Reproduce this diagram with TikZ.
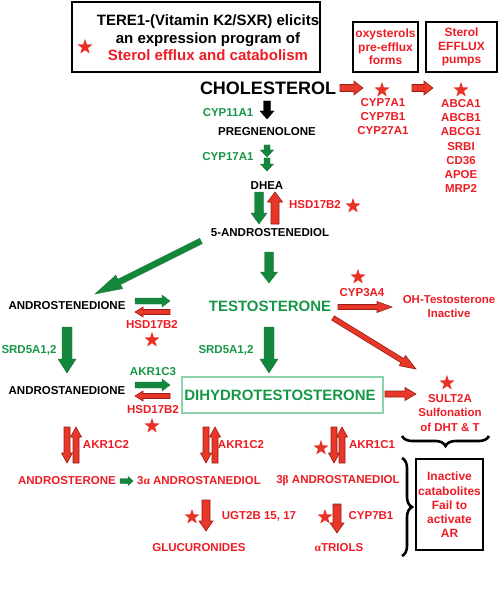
\documentclass[tikz,border=0pt]{standalone}
\usepackage{fontspec}
\setmainfont{Liberation Sans}
\newfontfamily\grk{Liberation Serif}
\usetikzlibrary{calc,shapes.geometric,decorations.pathreplacing}
\definecolor{rtext}{RGB}{236,28,36}
\definecolor{gtext}{RGB}{24,150,72}
\definecolor{garr}{RGB}{20,135,60}
\definecolor{rarr}{RGB}{232,54,40}
\definecolor{rarrd}{RGB}{150,30,20}
\definecolor{starc}{RGB}{232,50,40}
\definecolor{dhtbox}{RGB}{140,210,170}
\newcommand\blockarr[6]{%
  \coordinate (bacC) at ($(#3)!#6!(#2)$);
  \draw[#1] ($(#2)!#4!90:(#3)$) -- ($(bacC)!#4!-90:(#2)$) -- ($(bacC)!#5!-90:(#2)$) -- (#3)
    -- ($(bacC)!#5!90:(#2)$) -- ($(bacC)!#4!90:(#2)$) -- ($(#2)!#4!-90:(#3)$) -- cycle;
}
\begin{document}
\begin{tikzpicture}[x=1pt,y=-1pt,
  txt/.style={font=\bfseries\fontsize{11.5}{14.3}\selectfont, inner sep=0pt, align=center},
  big/.style={font=\bfseries\fontsize{15}{17.5}\selectfont, inner sep=0pt, align=center},
  rt/.style={txt, text=rtext},
  gt/.style={txt, text=gtext},
  kt/.style={txt, text=black},
  mystar/.style={star, star points=5, star point ratio=2.5, fill=starc, draw=none, inner sep=0pt, minimum size=16pt},
  boxk/.style={draw=black, line width=2pt},
  rarrow/.style={fill=rarr, draw=rarrd, line width=0.6pt, line join=miter},
  garrow/.style={fill=garr, draw=garr!85!black, line width=0.4pt, line join=miter},
  karrow/.style={fill=black, draw=black, line width=0.4pt, line join=miter},
  bracek/.style={decorate, decoration={brace, amplitude=10pt}, line width=2.6pt, draw=black}
]
\useasboundingbox (0,0) rectangle (500,604);

% header boxes
\draw[boxk, line width=2.2pt] (72,2) rectangle (320,72);
\node[big] (hdr) at (208,38) {TERE1-(Vitamin K2/SXR) elicits\\an expression program of\\\textcolor{rtext}{Sterol efflux and catabolism}};
\node[mystar] (s0) at (85,47) {};
\draw[boxk] (353,22) rectangle (418,72);
\node[rt, font=\bfseries\fontsize{12}{13.5}\selectfont] (oxy) at (385.5,47) {oxysterols\\pre-efflux\\forms};
\draw[boxk] (426,22) rectangle (497,72);
\node[rt, font=\bfseries\fontsize{12}{13.5}\selectfont] (eff) at (461.5,47) {Sterol\\EFFLUX\\pumps};

% cholesterol line
\node[kt, font=\bfseries\fontsize{18}{20}\selectfont] (chol) at (268,88) {CHOLESTEROL};
\node[mystar] (s1) at (382,90) {};
\node[mystar] (s2) at (461,90) {};
\node[rt] (cyp7) at (383,116.5) {CYP7A1\\CYP7B1\\CYP27A1};
\node[rt] (abc) at (461,146) {ABCA1\\ABCB1\\ABCG1\\SRBI\\CD36\\APOE\\MRP2};
\coordinate (a1s) at (340,88); \coordinate (a1e) at (363,88);
\coordinate (a2s) at (412,88); \coordinate (a2e) at (433,88);
\blockarr{rarrow}{a1s}{a1e}{3.5pt}{7pt}{9pt}
\blockarr{rarrow}{a2s}{a2e}{3.5pt}{7pt}{9pt}

% central column
\node[gt] (cyp11) at (228,113) {CYP11A1};
\coordinate (k1s) at (267,101); \coordinate (k1e) at (267,119);
\blockarr{karrow}{k1s}{k1e}{3.5pt}{7pt}{8pt}
\node[kt] (preg) at (267,132) {PREGNENOLONE};
\node[gt] (cyp17) at (228,157) {CYP17A1};
\coordinate (g1s) at (267,145); \coordinate (g1e) at (267,157);
\coordinate (g2s) at (267,158); \coordinate (g2e) at (267,171);
\blockarr{garrow}{g1s}{g1e}{3pt}{6.5pt}{7pt}
\blockarr{garrow}{g2s}{g2e}{3pt}{6.5pt}{7pt}
\node[kt] (dhea) at (267,186) {DHEA};
\coordinate (g3s) at (259,192); \coordinate (g3e) at (259,224);
\blockarr{garrow}{g3s}{g3e}{4.5pt}{8pt}{11pt}
\coordinate (r3s) at (275,224); \coordinate (r3e) at (275,192);
\blockarr{rarrow}{r3s}{r3e}{4pt}{7.5pt}{10pt}
\node[rt] (hsd1) at (315,205) {HSD17B2};
\node[mystar] (s3) at (353,206) {};
\node[kt] (andiol) at (270,233) {5-ANDROSTENEDIOL};
\coordinate (g4s) at (269,252); \coordinate (g4e) at (269,283);
\blockarr{garrow}{g4s}{g4e}{4.5pt}{8.5pt}{11pt}
\coordinate (g5s) at (201,241); \coordinate (g5e) at (95,294);
\blockarr{garrow}{g5s}{g5e}{3pt}{7.5pt}{27pt}

% testosterone row
\node[big, text=gtext] (testo) at (270,306) {TESTOSTERONE};
\node[mystar] (s4) at (358,277) {};
\node[rt] (cyp3a4) at (362,293) {CYP3A4};
\node[rt] (oht) at (449,306.5) {OH-Testosterone\\Inactive};
\coordinate (r4s) at (338,307); \coordinate (r4e) at (392,307);
\blockarr{rarrow}{r4s}{r4e}{2.5pt}{5.5pt}{15pt}
\coordinate (r5s) at (333,318); \coordinate (r5e) at (416,369);
\blockarr{rarrow}{r5s}{r5e}{2.5pt}{6pt}{16pt}
\coordinate (g6s) at (269,327); \coordinate (g6e) at (269,373);
\blockarr{garrow}{g6s}{g6e}{5pt}{9pt}{14pt}
\node[gt] (srd2) at (226,350) {SRD5A1,2};

% DHT
\draw[draw=dhtbox, line width=1.2pt] (182,377) rectangle (383,413);
\node[big, text=gtext] (dht) at (280,395) {DIHYDROTESTOSTERONE};
\coordinate (r6s) at (385,394); \coordinate (r6e) at (416,394);
\blockarr{rarrow}{r6s}{r6e}{3pt}{6.5pt}{11pt}
\node[mystar] (s5) at (447,383) {};
\node[rt] (sult) at (450,413) {SULT2A\\Sulfonation\\of DHT \& T};
\coordinate (b1s) at (489,436); \coordinate (b1e) at (402,436);
\draw[bracek] (b1s) -- (b1e);

% left column
\node[kt] (aone) at (67,306) {ANDROSTENEDIONE};
\coordinate (g7s) at (135,301); \coordinate (g7e) at (170,301);
\blockarr{garrow}{g7s}{g7e}{3pt}{6pt}{8pt}
\coordinate (r7s) at (170,312); \coordinate (r7e) at (135,312);
\blockarr{rarrow}{r7s}{r7e}{2.5pt}{5pt}{8pt}
\node[rt] (hsd2) at (152,325) {HSD17B2};
\node[mystar] (s6) at (152,340) {};
\coordinate (g8s) at (67,327); \coordinate (g8e) at (67,373);
\blockarr{garrow}{g8s}{g8e}{5pt}{9pt}{14pt}
\node[gt] (srd1) at (29,350) {SRD5A1,2};
\node[gt] (akr3) at (153,372) {AKR1C3};
\node[kt] (atwo) at (67,391) {ANDROSTANEDIONE};
\coordinate (g9s) at (135,385); \coordinate (g9e) at (170,385);
\blockarr{garrow}{g9s}{g9e}{3pt}{6pt}{8pt}
\coordinate (r9s) at (170,396); \coordinate (r9e) at (135,396);
\blockarr{rarrow}{r9s}{r9e}{2.5pt}{5pt}{8pt}
\node[rt] (hsd3) at (153,410) {HSD17B2};
\node[mystar] (s7) at (152,426) {};

% bottom
\coordinate (d1s) at (67,427); \coordinate (d1e) at (67,463);
\coordinate (u1s) at (76,463); \coordinate (u1e) at (76,427);
\blockarr{rarrow}{d1s}{d1e}{3pt}{5.5pt}{10pt}
\blockarr{rarrow}{u1s}{u1e}{3pt}{5.5pt}{10pt}
\node[rt] (akr2a) at (106,445) {AKR1C2};
\coordinate (d2s) at (206,427); \coordinate (d2e) at (206,463);
\coordinate (u2s) at (215,463); \coordinate (u2e) at (215,427);
\blockarr{rarrow}{d2s}{d2e}{3pt}{5.5pt}{10pt}
\blockarr{rarrow}{u2s}{u2e}{3pt}{5.5pt}{10pt}
\node[rt] (akr2b) at (241,445) {AKR1C2};
\node[mystar] (s9) at (321,448) {};
\coordinate (d3s) at (334,427); \coordinate (d3e) at (334,463);
\coordinate (u3s) at (342,463); \coordinate (u3e) at (342,427);
\blockarr{rarrow}{d3s}{d3e}{3pt}{5.5pt}{10pt}
\blockarr{rarrow}{u3s}{u3e}{3pt}{5.5pt}{10pt}
\node[rt] (akr1) at (372,445) {AKR1C1};

\node[rt] (aster) at (67,481) {ANDROSTERONE};
\coordinate (g10s) at (120,481); \coordinate (g10e) at (133,481);
\blockarr{garrow}{g10s}{g10e}{2.5pt}{4.5pt}{5pt}
\node[rt] (adiola) at (199,481) {3{\grk α} ANDROSTANEDIOL};
\node[rt] (adiolb) at (338,481) {3{\grk β} ANDROSTANEDIOL};

\node[mystar] (s8) at (192,517) {};
\coordinate (d4s) at (206,500); \coordinate (d4e) at (206,531);
\blockarr{rarrow}{d4s}{d4e}{4pt}{7pt}{10pt}
\node[rt] (ugt) at (259,516) {UGT2B 15, 17};
\node[mystar] (s10) at (325,517) {};
\coordinate (d5s) at (337,504); \coordinate (d5e) at (337,533);
\blockarr{rarrow}{d5s}{d5e}{4pt}{7pt}{10pt}
\node[rt] (cyp7b1) at (371,516) {CYP7B1};
\node[rt] (gluc) at (199,548) {GLUCURONIDES};
\node[rt] (triols) at (339,548) {{\grk α}TRIOLS};

% right brace and box
\coordinate (b2s) at (402,458); \coordinate (b2e) at (402,556);
\draw[bracek] (b2s) -- (b2e);
\draw[boxk] (416,459) rectangle (483,550);
\node[rt, font=\bfseries\fontsize{12}{14.3}\selectfont] (inact) at (449.5,505) {Inactive\\catabolites\\Fail to\\activate\\AR};
\end{tikzpicture}
\end{document}
